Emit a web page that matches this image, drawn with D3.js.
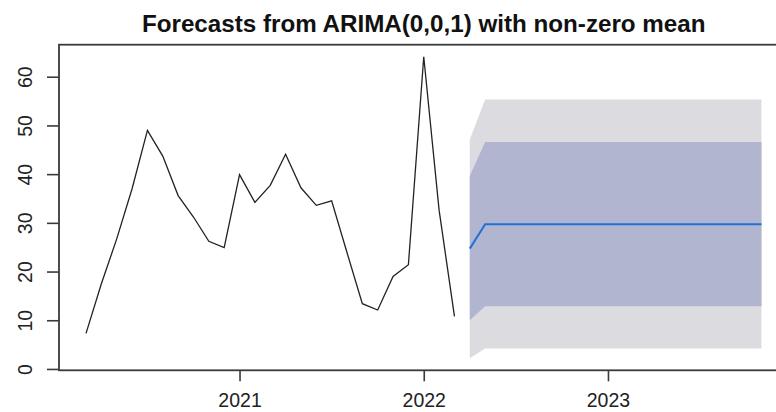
<!DOCTYPE html>
<html>
<head>
<meta charset="utf-8">
<script src="https://cdn.jsdelivr.net/npm/d3@7"></script>
<style>
  body { margin: 0; background: #fff; }
  svg { display: block; }
</style>
</head>
<body>
<svg id="chart" width="776" height="412"></svg>
<script>
// Monthly observations, March 2020 – March 2022
const obsStart = 2020 + 2 / 12;
const observed = [7.3, 17.5, 26.7, 37.0, 49.0, 43.7, 35.6, 31.2, 26.2, 24.9,
                  39.9, 34.2, 37.7, 44.1, 37.2, 33.6, 34.5, 23.9, 13.4, 12.1,
                  19.0, 21.4, 64.1, 32.6, 10.8];

// 20-month forecast, April 2022 – November 2023
const fcStart = 2022 + 3 / 12;
const fcMean    = [24.7, 29.7, 29.7, 29.7, 29.7, 29.7, 29.7, 29.7, 29.7, 29.7,
                   29.7, 29.7, 29.7, 29.7, 29.7, 29.7, 29.7, 29.7, 29.7, 29.7];
const fcLower80 = [10.0, 12.9, 12.9, 12.9, 12.9, 12.9, 12.9, 12.9, 12.9, 12.9,
                   12.9, 12.9, 12.9, 12.9, 12.9, 12.9, 12.9, 12.9, 12.9, 12.9];
const fcUpper80 = [39.6, 46.6, 46.6, 46.6, 46.6, 46.6, 46.6, 46.6, 46.6, 46.6,
                   46.6, 46.6, 46.6, 46.6, 46.6, 46.6, 46.6, 46.6, 46.6, 46.6];
const fcLower95 = [2.2, 4.2, 4.2, 4.2, 4.2, 4.2, 4.2, 4.2, 4.2, 4.2,
                   4.2, 4.2, 4.2, 4.2, 4.2, 4.2, 4.2, 4.2, 4.2, 4.2];
const fcUpper95 = [47.1, 55.3, 55.3, 55.3, 55.3, 55.3, 55.3, 55.3, 55.3, 55.3,
                   55.3, 55.3, 55.3, 55.3, 55.3, 55.3, 55.3, 55.3, 55.3, 55.3];

const xTicks = [2021, 2022, 2023];
const yTicks = [0, 10, 20, 30, 40, 50, 60];
const title = "Forecasts from ARIMA(0,0,1) with non-zero mean";

const svg = d3.select("#chart");
const font = "'Liberation Sans', Arial, sans-serif";

const obsData = observed.map((v, i) => ({ t: obsStart + i / 12, v }));
const fcData = fcMean.map((m, i) => ({
  t: fcStart + i / 12, m,
  lo80: fcLower80[i], hi80: fcUpper80[i],
  lo95: fcLower95[i], hi95: fcUpper95[i]
}));

// Plot region extends 4% beyond the data, base-graphics style
const tMin = obsData[0].t, tMax = fcData[fcData.length - 1].t;
const tPad = 0.04 * (tMax - tMin);
const vMin = d3.min([d3.min(observed), d3.min(fcLower95)]);
const vMax = d3.max([d3.max(observed), d3.max(fcUpper95)]);
const vPad = 0.04 * (vMax - vMin);

const plot = { left: 59, right: 788.5, top: 44.7, bottom: 370.3 };

const x = d3.scaleLinear().domain([tMin - tPad, tMax + tPad]).range([plot.left, plot.right]);
const y = d3.scaleLinear().domain([vMin - vPad, vMax + vPad]).range([plot.bottom, plot.top]);

// Prediction intervals
const area = (lo, hi) => d3.area().x(d => x(d.t)).y0(d => y(d[lo])).y1(d => y(d[hi]));
svg.append("path").datum(fcData).attr("d", area("lo95", "hi95")).attr("fill", "#dbdbe0");
svg.append("path").datum(fcData).attr("d", area("lo80", "hi80")).attr("fill", "#b1b5d0");

// Observed series
svg.append("path").datum(obsData)
  .attr("d", d3.line().x(d => x(d.t)).y(d => y(d.v)))
  .attr("fill", "none").attr("stroke", "#222").attr("stroke-width", 1.3)
  .attr("stroke-linejoin", "miter");

// Point forecast
svg.append("path").datum(fcData)
  .attr("d", d3.line().x(d => x(d.t)).y(d => y(d.m)))
  .attr("fill", "none").attr("stroke", "#2171d6").attr("stroke-width", 2);

// Y axis
const yAxis = d3.axisLeft(y).tickValues(yTicks).tickSize(12).tickPadding(0).tickFormat(d3.format("d"));
const gy = svg.append("g").attr("transform", `translate(${plot.left},0)`).call(yAxis);
gy.select(".domain").remove();
gy.selectAll(".tick line").attr("stroke", "#3a3a3a").attr("stroke-width", 1.6);
gy.selectAll(".tick text")
  .attr("transform", "rotate(-90)")
  .attr("x", 0).attr("y", -27).attr("dy", 0)
  .attr("text-anchor", "middle")
  .attr("font-family", font).attr("font-size", 19.5).attr("fill", "#222");

// X axis
const xAxis = d3.axisBottom(x).tickValues(xTicks).tickSize(11).tickPadding(0).tickFormat(d3.format("d"));
const gx = svg.append("g").attr("transform", `translate(0,${plot.bottom})`).call(xAxis);
gx.select(".domain").remove();
gx.selectAll(".tick line").attr("stroke", "#3a3a3a").attr("stroke-width", 1.6);
gx.selectAll(".tick text")
  .attr("y", 37).attr("dy", 0)
  .attr("font-family", font).attr("font-size", 19.5).attr("fill", "#222");

// Plot frame
svg.append("rect")
  .attr("x", plot.left).attr("y", plot.top)
  .attr("width", plot.right - plot.left).attr("height", plot.bottom - plot.top)
  .attr("fill", "none").attr("stroke", "#3a3a3a").attr("stroke-width", 1.8);

// Title
svg.append("text")
  .attr("x", (plot.left + plot.right) / 2).attr("y", 32)
  .attr("text-anchor", "middle")
  .attr("font-family", font).attr("font-weight", "bold").attr("font-size", 24.2)
  .attr("fill", "#111")
  .text(title);
</script>
</body>
</html>
